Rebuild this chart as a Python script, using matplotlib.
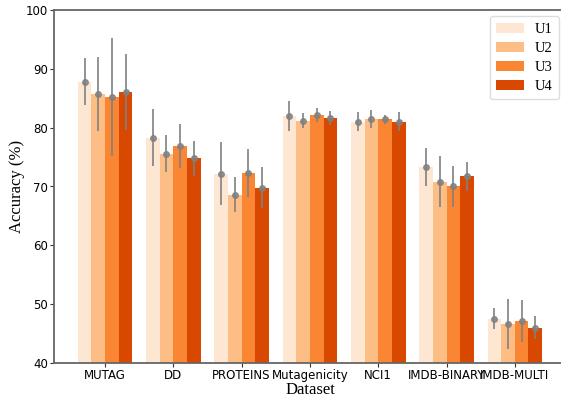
import numpy as np
import matplotlib.pyplot as plt

# ---------------------------------------------------------------- data
datasets = ["MUTAG", "DD", "PROTEINS", "Mutagenicity", "NCI1", "IMDB-BINARY", "IMDB-MULTI"]
series = ["U1", "U2", "U3", "U4"]

acc_u1 = [87.8, 78.3, 72.2, 82.0, 81.0, 73.3, 47.5]
acc_u2 = [85.7, 75.6, 68.6, 81.2, 81.5, 70.8, 46.6]
acc_u3 = [85.2, 76.9, 72.3, 82.2, 81.4, 70.0, 47.1]
acc_u4 = [86.1, 74.8, 69.8, 81.7, 81.0, 71.7, 46.0]

std_u1 = [4.0, 4.9, 5.4, 2.6, 1.6, 3.2, 1.8]
std_u2 = [6.3, 3.2, 3.0, 1.3, 1.5, 4.3, 4.2]
std_u3 = [10.0, 3.7, 4.1, 1.2, 0.7, 3.5, 3.6]
std_u4 = [6.5, 3.0, 3.5, 1.2, 1.6, 2.4, 2.0]

colors = ["#fde7d3", "#fdbe85", "#fa8634", "#d94801"]

# ---------------------------------------------------------------- figure
plt.rcParams["font.family"] = ["Liberation Serif", "DejaVu Serif"]

fig = plt.figure(figsize=(5.61, 3.99), dpi=100)
ax = fig.add_axes([54 / 561, 36 / 399, 512 / 561, 353 / 399])

x = np.arange(len(datasets))
width = 0.2
accs = [acc_u1, acc_u2, acc_u3, acc_u4]
stds = [std_u1, std_u2, std_u3, std_u4]
for i, (name, a, s, c) in enumerate(zip(series, accs, stds, colors)):
    pos = x + (i - 1.5) * width
    ax.bar(pos, a, width=width, color=c, label=name, zorder=2)
    ax.errorbar(pos, a, yerr=s, fmt="o", color="gray", ms=4, elinewidth=1.4,
                alpha=0.85, zorder=3)

ax.set_ylim(40, 100)
ax.set_xlim(-0.747, -0.747 + 512 / 68.3)
ax.set_xticks(x)
ax.set_xticklabels(datasets, family="DejaVu Sans", fontsize=8.5)
ax.set_yticks(np.arange(40, 101, 10))
for lab in ax.get_yticklabels():
    lab.set_family("DejaVu Sans")
    lab.set_fontsize(8.5)
ax.set_xlabel("Dataset", fontsize=12, labelpad=0)
ax.set_ylabel("Accuracy (%)", fontsize=12, labelpad=0)

for sp in ax.spines.values():
    sp.set_color("#666666")
    sp.set_linewidth(1.3)
ax.spines["right"].set_visible(False)
ax.tick_params(color="#333333", length=3, pad=1.5)

ax.legend(loc="upper right", bbox_to_anchor=(0.986, 0.983), fontsize=10.5,
          handlelength=1.9, handleheight=0.7, handletextpad=0.7, borderpad=0.45,
          labelspacing=0.4, borderaxespad=0, framealpha=1.0, edgecolor="#dddddd")

fig.savefig("out.png", dpi=100)
